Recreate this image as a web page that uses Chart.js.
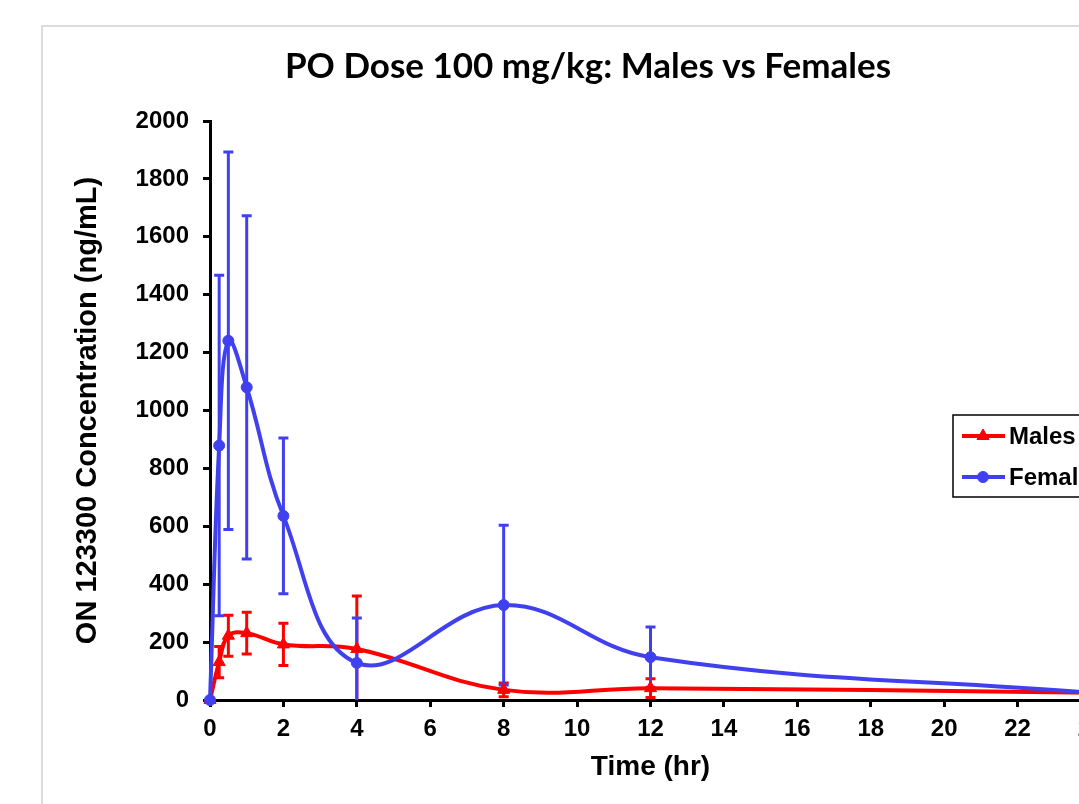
<!DOCTYPE html>
<html>
<head>
<meta charset="utf-8">
<script src="https://cdn.jsdelivr.net/npm/chart.js@4.4.1/dist/chart.umd.min.js"></script>
<style>
  html, body { margin: 0; padding: 0; background: #fff; overflow: hidden; width: 1079px; height: 804px; }
  #frame { position: absolute; left: 41px; top: 25px; width: 1200px; height: 900px; border: 2px solid #dcdcdc; box-sizing: border-box; }
  #chart { position: absolute; left: 0; top: 0; }
</style>
</head>
<body>
<div id="frame"></div>
<canvas id="chart" width="1150" height="804"></canvas>
<script>
// sampling times (hr) and mean +/- SD concentrations (ng/mL)
const times = [0, 0.25, 0.5, 1, 2, 4, 8, 12, 24];
const malesMean = [0, 131, 222, 231, 192, 176, 35, 41, 25];
const malesSd = [0, 54, 71, 72, 73, 183, 24, 32, 0];
const femalesMean = [0, 879, 1241, 1080, 636, 128, 328, 148, 25];
const femalesSd = [0, 588, 652, 593, 269, 155, 276, 104, 0];

const xTickValues = [0, 2, 4, 6, 8, 10, 12, 14, 16, 18, 20, 22, 24];
const yTickValues = [0, 200, 400, 600, 800, 1000, 1200, 1400, 1600, 1800, 2000];

const labelFont = '"Liberation Sans", Arial, sans-serif';

// draws mean +/- SD whiskers using the chart's own scales
const errorBars = {
    id: 'errorBars',
    beforeDatasetsDraw(chart) {
        const { ctx, chartArea, scales: { x, y } } = chart;
        ctx.save();
        ctx.beginPath();
        ctx.rect(chartArea.left, chartArea.top, chartArea.width, chartArea.height);
        ctx.clip();
        chart.data.datasets.forEach(ds => {
            if (!ds.errors) return;
            ctx.strokeStyle = ds.borderColor;
            ctx.lineWidth = 3;
            ds.data.forEach((pt, j) => {
                const sd = ds.errors[j];
                if (!sd) return;
                const px = x.getPixelForValue(pt.x);
                const top = y.getPixelForValue(pt.y + sd);
                const bot = y.getPixelForValue(pt.y - sd);
                ctx.beginPath();
                ctx.moveTo(px, top); ctx.lineTo(px, bot);
                ctx.moveTo(px - 5, top); ctx.lineTo(px + 5, top);
                ctx.moveTo(px - 5, bot); ctx.lineTo(px + 5, bot);
                ctx.stroke();
            });
        });
        ctx.restore();
    }
};

// boxed legend floating over the plot, like the original
const boxLegend = {
    id: 'boxLegend',
    afterDraw(chart) {
        const ctx = chart.ctx;
        const left = 953, top = 415, w = 190, h = 82;
        ctx.save();
        ctx.fillStyle = '#fff';
        ctx.fillRect(left, top, w, h);
        ctx.strokeStyle = '#000';
        ctx.lineWidth = 1.5;
        ctx.strokeRect(left, top, w, h);
        chart.data.datasets.forEach((ds, i) => {
            const cy = top + 21 + i * 41;
            ctx.strokeStyle = ds.borderColor;
            ctx.lineWidth = 4;
            ctx.beginPath();
            ctx.moveTo(left + 9, cy);
            ctx.lineTo(left + 52, cy);
            ctx.stroke();
            ctx.fillStyle = ds.pointBackgroundColor;
            ctx.lineWidth = 1;
            Chart.helpers.drawPoint(ctx, { pointStyle: ds.pointStyle, radius: ds.pointRadius, borderWidth: 1, rotation: 0 }, left + 30, cy);
            ctx.fillStyle = '#000';
            ctx.font = 'bold 24px ' + labelFont;
            ctx.textBaseline = 'middle';
            ctx.fillText(ds.label, left + 56, cy + 1);
        });
        ctx.restore();
    }
};

const red = '#FF0000';
const blue = '#4040EE';

new Chart(document.getElementById('chart'), {
    type: 'line',
    data: {
        datasets: [{
            label: 'Males',
            data: times.map((t, i) => ({ x: t, y: malesMean[i] })),
            errors: malesSd,
            borderColor: red,
            backgroundColor: red,
            pointBackgroundColor: red,
            pointBorderColor: red,
            pointStyle: 'triangle',
            pointRadius: 7,
            pointBorderWidth: 1,
            borderWidth: 4,
            tension: 0.4,
            clip: false,
            order: 1
        }, {
            label: 'Females',
            data: times.map((t, i) => ({ x: t, y: femalesMean[i] })),
            errors: femalesSd,
            borderColor: blue,
            backgroundColor: blue,
            pointBackgroundColor: blue,
            pointBorderColor: blue,
            pointStyle: 'circle',
            pointRadius: 5.5,
            pointBorderWidth: 1,
            borderWidth: 4,
            tension: 0.4,
            clip: false,
            order: 0
        }]
    },
    options: {
        responsive: false,
        animation: false,
        layout: { padding: { left: 85, right: 59, top: 0, bottom: 0 } },
        plugins: {
            legend: { display: false },
            tooltip: { enabled: false },
            title: {
                display: true,
                text: 'PO Dose 100 mg/kg: Males vs Females',
                color: '#000',
                font: { family: 'Lato', size: 35, weight: 'bold' },
                padding: { top: 46, bottom: 33 }
            }
        },
        scales: {
            x: {
                type: 'linear',
                min: 0,
                max: 24,
                afterBuildTicks: s => { s.ticks = xTickValues.map(v => ({ value: v })); },
                afterFit: s => { s.height = 104; },
                border: { color: '#000', width: 3 },
                grid: { drawOnChartArea: false, color: '#000', lineWidth: 3, tickLength: 7 },
                ticks: { color: '#000', font: { family: labelFont, size: 24, weight: 'bold' }, padding: 8, maxRotation: 0, autoSkip: false, callback: v => String(v) },
                title: { display: true, text: 'Time (hr)', color: '#000', font: { family: labelFont, size: 28, weight: 'bold' }, padding: { top: 0, bottom: 20 } }
            },
            y: {
                min: 0,
                max: 2000,
                afterBuildTicks: s => { s.ticks = yTickValues.map(v => ({ value: v })); },
                afterFit: s => { s.width = 125; },
                border: { color: '#000', width: 3 },
                grid: { drawOnChartArea: false, color: '#000', lineWidth: 3, tickLength: 7 },
                ticks: { color: '#000', font: { family: labelFont, size: 24, weight: 'bold' }, padding: 14, callback: v => String(v) },
                title: { display: true, text: 'ON 123300 Concentration (ng/mL)', color: '#000', font: { family: labelFont, size: 29, weight: 'bold' }, padding: { top: -14, bottom: 0 } }
            }
        }
    },
    plugins: [errorBars, boxLegend]
});
</script>
</body>
</html>
